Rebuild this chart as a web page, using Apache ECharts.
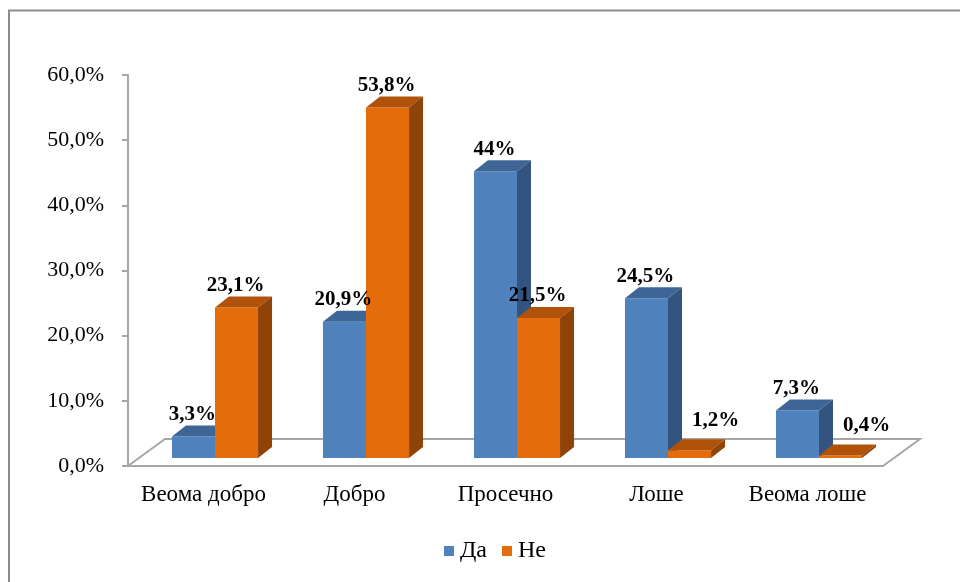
<!DOCTYPE html>
<html>
<head>
<meta charset="utf-8">
<script src="https://cdn.jsdelivr.net/npm/echarts@6/dist/echarts.min.js"></script>
<style>
  html, body { margin: 0; padding: 0; background: #fff; }
  #chart { width: 960px; height: 582px; }
</style>
</head>
<body>
<div id="chart"></div>
<script>
const categories = ['Веома добро', 'Добро', 'Просечно', 'Лоше', 'Веома лоше'];
const seriesNames = ['Да', 'Не'];
const yesValues = [3.3, 20.9, 44, 24.5, 7.3];
const noValues = [23.1, 53.8, 21.5, 1.2, 0.4];

const FONT = '"Liberation Serif", "Times New Roman", serif';
const palette = [
    { front: '#4F81BD', top: '#3D6697', side: '#32547E' },
    { front: '#E46C0A', top: '#B0520A', side: '#8F4307' }
];
const DEPTH = [14, -11];      // bar depth offset
const FLOOR = [37, -27];      // floor depth offset
const SHIFT = [11.5, -8];     // bars stand a bit back on the floor

function fmt(v) {
    return (Number.isInteger(v) ? String(v) : v.toFixed(1).replace('.', ',')) + '%';
}

function barRenderer(idx) {
    const c = palette[idx];
    return function (params, api) {
        const i = api.value(0), v = api.value(1);
        const top = api.coord([i, v]);
        const base = api.coord([i, 0]);
        const w = api.size([1, 0])[0] * 0.285;
        const x0 = top[0] + SHIFT[0] + (idx === 0 ? -w : 0);
        const yt = top[1] + SHIFT[1], yb = base[1] + SHIFT[1];
        const dx = DEPTH[0], dy = DEPTH[1];
        // small bars: label pushed aside like excel does
        const small = v < 2;
        return {
            type: 'group',
            children: [
                { type: 'rect', shape: { x: x0, y: yt, width: w, height: yb - yt }, style: { fill: c.front } },
                { type: 'polygon', shape: { points: [[x0, yt], [x0 + w, yt], [x0 + w + dx, yt + dy], [x0 + dx, yt + dy]] }, style: { fill: c.top } },
                { type: 'polygon', shape: { points: [[x0 + w, yt], [x0 + w + dx, yt + dy], [x0 + w + dx, yb + dy], [x0 + w, yb]] }, style: { fill: c.side } },
                {
                    type: 'text', z2: 100,
                    style: {
                        text: fmt(v),
                        x: x0 + w / 2 + (small ? 26 : -1),
                        y: yt + dy - (small ? 19 : 11),
                        align: 'center', verticalAlign: 'middle',
                        font: 'bold 21px ' + FONT, fill: '#000'
                    }
                }
            ]
        };
    };
}

function floorRenderer(params, api) {
    const band = api.size([1, 0])[0];
    const first = api.coord([0, 0]);
    const last = api.coord([categories.length - 1, 0]);
    const xl = first[0] - band / 2, xr = last[0] + band / 2, y = first[1];
    const dx = FLOOR[0], dy = FLOOR[1];
    return {
        type: 'polyline',
        shape: { points: [[xl, y], [xl + dx, y + dy], [xr + dx, y + dy], [xr, y]] },
        style: { stroke: '#A6A6A6', lineWidth: 2, fill: null }
    };
}

const chart = echarts.init(document.getElementById('chart'), null, { renderer: 'canvas' });

chart.setOption({
    animation: false,
    backgroundColor: '#fff',
    graphic: [
        { type: 'polyline', shape: { points: [[9, 582], [9, 10.5], [960, 10.5]] }, style: { stroke: '#8C8C8C', lineWidth: 2, fill: null } }
    ],
    grid: { left: 128, right: 77, top: 75, bottom: 116 },
    legend: {
        data: seriesNames,
        bottom: 14,
        left: 439,
        icon: 'rect',
        itemWidth: 10, itemHeight: 10, itemGap: 15,
        textStyle: { fontFamily: FONT, fontSize: 24, color: '#000', padding: [0, 0, 0, 1] }
    },
    xAxis: {
        type: 'category',
        data: categories,
        axisLine: { lineStyle: { color: '#A6A6A6', width: 2 } },
        axisTick: { length: 7, lineStyle: { color: '#A6A6A6', width: 2 } },
        axisLabel: { interval: 0, fontFamily: FONT, fontSize: 23, color: '#000', margin: 17 }
    },
    yAxis: {
        type: 'value',
        min: 0, max: 60, interval: 10,
        axisLine: { show: true, lineStyle: { color: '#A6A6A6', width: 2 } },
        axisTick: { show: true, length: 6, lineStyle: { color: '#A6A6A6', width: 2 } },
        splitLine: { show: false },
        axisLabel: { fontFamily: FONT, fontSize: 22, color: '#000', margin: 24, formatter: v => v.toFixed(1).replace('.', ',') + '%' }
    },
    series: [
        { type: 'custom', name: 'floor', renderItem: floorRenderer, data: [[0, 0]], z: 1, silent: true },
        { type: 'custom', name: seriesNames[0], renderItem: barRenderer(0), itemStyle: { color: palette[0].front }, data: yesValues.map((v, i) => [i, v]), z: 2 },
        { type: 'custom', name: seriesNames[1], renderItem: barRenderer(1), itemStyle: { color: palette[1].front }, data: noValues.map((v, i) => [i, v]), z: 2 }
    ]
});
</script>
</body>
</html>
